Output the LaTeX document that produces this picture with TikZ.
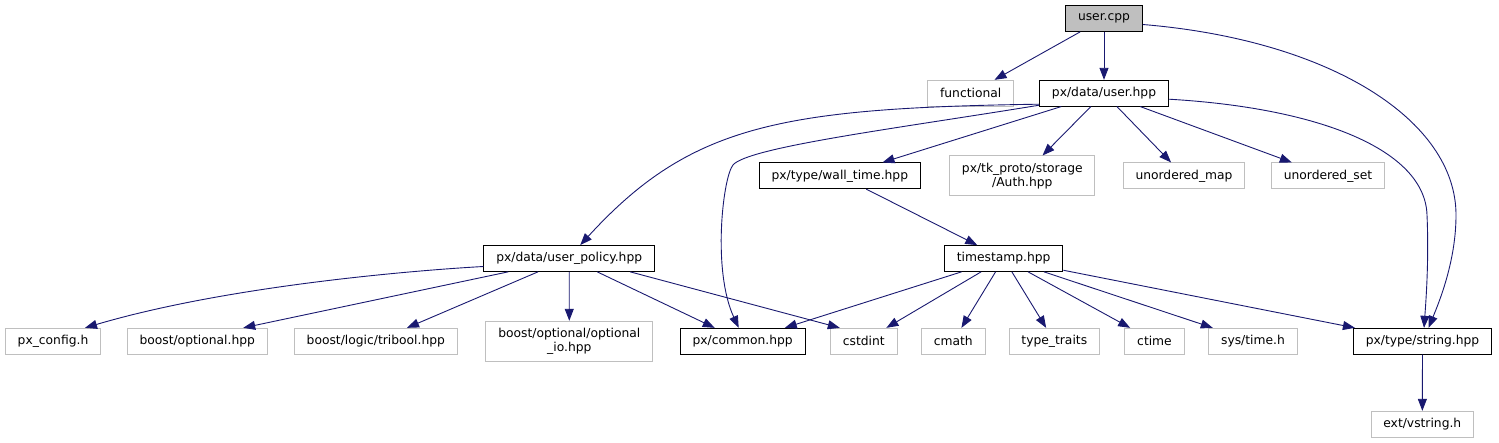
\documentclass[tikz,border=0pt]{standalone}
\usepackage{fontspec}
\setmainfont{DejaVu Sans}
\usetikzlibrary{arrows.meta}
\definecolor{edgeblue}{RGB}{25,25,112}
\definecolor{boxgray}{RGB}{191,191,191}
\begin{document}
\begin{tikzpicture}[x=1pt, y=-1pt,
    every node/.style={rectangle, font=\fontsize{12.3}{14.3}\selectfont, inner xsep=12.3pt, inner ysep=0pt, minimum height=25.7pt, align=center, line width=1pt},
    docfile/.style={draw=black},
    extfile/.style={draw=boxgray},
    rootfile/.style={draw=black, fill=boxgray},
    dep/.style={draw=edgeblue, line width=0.9pt, -{Triangle[length=12pt, width=9pt]}}]
    \useasboundingbox (0,0) rectangle (1499,443);

    % Nodes
    \node[rootfile] (cpp) at (1104,18.5) {user.cpp};
    \node[extfile] (functional) at (970.7,93.2) {functional};
    \node[docfile] (userh) at (1104,93.2) {px/data/user.hpp};
    \node[docfile] (walltime) at (839.8,175.8) {px/type/wall\_time.hpp};
    \node[extfile, minimum height=40pt] (auth) at (1022.3,176) {px/tk\_proto/storage\\/Auth.hpp};
    \node[extfile] (umap) at (1184,175.8) {unordered\_map};
    \node[extfile] (uset) at (1328,175.8) {unordered\_set};
    \node[docfile] (policy) at (569.2,258.5) {px/data/user\_policy.hpp};
    \node[docfile] (stamp) at (1003.7,258.5) {timestamp.hpp};
    \node[extfile] (config) at (53,341.2) {px\_config.h};
    \node[extfile] (optional) at (197.2,341.2) {boost/optional.hpp};
    \node[extfile] (tribool) at (375.8,341.2) {boost/logic/tribool.hpp};
    \node[extfile, minimum height=40pt] (optio) at (569.3,341.3) {boost/optional/optional\\\_io.hpp};
    \node[docfile] (common) at (742.7,341.2) {px/common.hpp};
    \node[extfile] (cstdint) at (863.8,341.2) {cstdint};
    \node[extfile] (cmath) at (953.3,341.2) {cmath};
    \node[extfile] (traits) at (1054.3,341.2) {type\_traits};
    \node[extfile] (ctime) at (1154.5,341.2) {ctime};
    \node[extfile] (systime) at (1253,341.2) {sys/time.h};
    \node[docfile] (string) at (1422.5,341.2) {px/type/string.hpp};
    \node[extfile] (vstring) at (1422.3,424.2) {ext/vstring.h};

    % Edges
    \draw[dep] (cpp) -- (functional);
    \draw[dep] (cpp) -- (userh);
    \draw[dep] ([yshift=-6pt]cpp.east) .. controls (1330,40) and (1456,120) .. (1456,215) .. controls (1456,260) and (1440,300) .. ([xshift=6pt]string.north);

    \draw[dep] ([yshift=-11pt]userh.west) .. controls (780,108) and (690,125) .. ([xshift=11pt]policy.north);
    \draw[dep] ([yshift=-12pt]userh.west) .. controls (900,128) and (748,147) .. (733,165) .. controls (723,177) and (712,270) .. ([xshift=-4pt]common.north);
    \draw[dep] (userh) -- (walltime);
    \draw[dep] (userh) -- (auth);
    \draw[dep] (userh) -- (umap);
    \draw[dep] (userh) -- (uset);
    \draw[dep] ([yshift=-6pt]userh.east) .. controls (1320,108) and (1425,150) .. (1427,215) .. controls (1429,260) and (1426,300) .. ([xshift=1.5pt]string.north);

    \draw[dep] ([yshift=-8pt]policy.west) .. controls (420,270) and (230,285) .. ([xshift=32pt]config.north);
    \draw[dep] ([xshift=-61pt]policy.south) -- ([xshift=46pt]optional.north);
    \draw[dep] (policy) -- (tribool);
    \draw[dep] (policy) -- (optio);
    \draw[dep] (policy) -- (common);
    \draw[dep] ([xshift=61pt]policy.south) -- ([xshift=-24pt]cstdint.north);

    \draw[dep] (walltime) -- (stamp);

    \foreach \n in {common, cstdint, cmath, traits, ctime, systime, string}
        \draw[dep] (stamp) -- (\n);

    \draw[dep] (string) -- (vstring);
\end{tikzpicture}
\end{document}
